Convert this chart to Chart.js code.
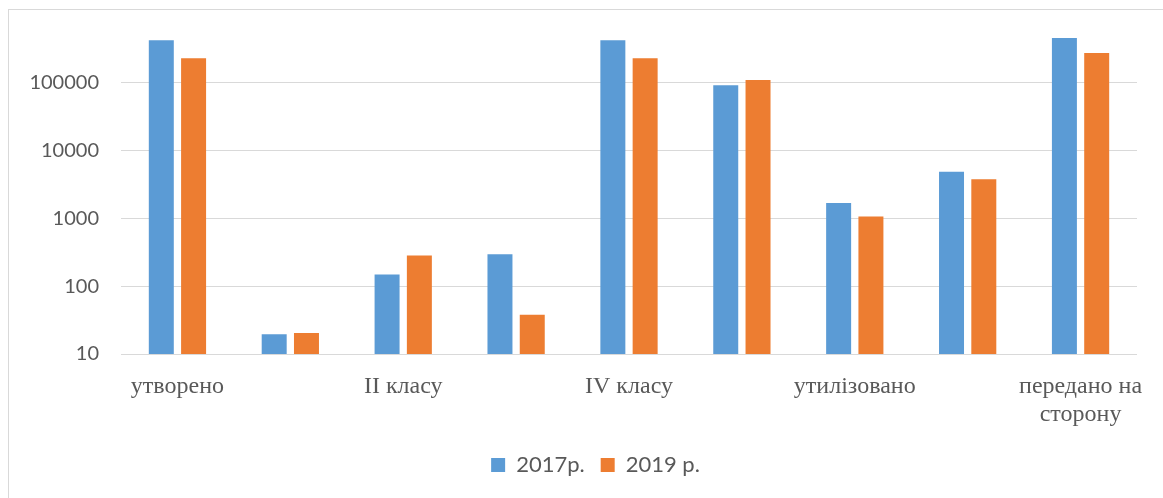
<!DOCTYPE html>
<html>
<head>
<meta charset="utf-8">
<script src="https://cdn.jsdelivr.net/npm/chart.js@4/dist/chart.umd.min.js"></script>
<style>
  html, body { margin: 0; padding: 0; background: #fff; }
  #frame { position: absolute; left: 8px; top: 9px; width: 1163px; height: 498px;
           border-left: 1px solid #d9d9d9; border-top: 1px solid #d9d9d9; }
  #wrap { position: absolute; left: 0; top: 0; width: 1163px; height: 498px; }
</style>
</head>
<body>
<div id="frame"></div>
<div id="wrap"><canvas id="c" width="1163" height="498"></canvas></div>
<script>
const categories = ["утворено", "", "II класу", "", "IV класу", "", "утилізовано", "", ["передано на", "сторону"]];
const series2017 = [421000, 19.5, 149, 295, 421000, 91000, 1680, 4860, 454000];
const series2019 = [229000, 20.4, 283, 37.8, 229000, 109500, 1060, 3750, 273000];
const yTicks = [10, 100, 1000, 10000, 100000, 1000000];
const seriesNames = ["2017р.", "2019 р."];

const sansFont = "Lato, 'Open Sans', sans-serif";
const serifFont = "'Liberation Serif', 'DejaVu Serif', serif";

const legendShift = {
  id: 'legendShift',
  beforeDraw(chart) {
    const lg = chart.legend;
    if (lg && !lg._shifted) { lg.left += 27; lg.right += 27; lg._shifted = true; }
  }
};

new Chart(document.getElementById('c'), {
  type: 'bar',
  data: {
    labels: categories,
    datasets: [
      { label: seriesNames[0], data: series2017, backgroundColor: '#5b9bd5', categoryPercentage: 0.572, barPercentage: 0.774 },
      { label: seriesNames[1], data: series2019, backgroundColor: '#ed7d31', categoryPercentage: 0.572, barPercentage: 0.774 }
    ]
  },
  plugins: [legendShift],
  options: {
    responsive: false,
    animation: false,
    layout: { padding: { left: 0, right: 26, top: 14.7, bottom: 12 } },
    plugins: {
      tooltip: { enabled: false },
      legend: {
        position: 'bottom',
        labels: { boxWidth: 14, boxHeight: 14, padding: 16, color: '#595959',
                  font: { family: sansFont, size: 22 } }
      }
    },
    scales: {
      x: {
        grid: { display: false },
        border: { display: false },
        ticks: { autoSkip: false, maxRotation: 0, padding: 10, color: '#595959',
                 font: { family: serifFont, size: 24 } },
        afterFit: (s) => { s.height = 84; }
      },
      y: {
        type: 'logarithmic',
        min: 10, max: 1000000,
        border: { display: false },
        grid: { drawTicks: false, lineWidth: 1,
                color: (ctx) => (ctx.tick && ctx.tick.value === 1000000) ? 'rgba(0,0,0,0)' : '#d9d9d9' },
        afterBuildTicks: (s) => { s.ticks = yTicks.map(v => ({ value: v })); },
        ticks: { padding: 22, color: '#595959', font: { family: sansFont, size: 20 },
                 callback: (v) => v === 1000000 ? '' : String(v) },
        afterFit: (s) => { s.width = 121; s.paddingTop = 0; s.paddingBottom = 0; }
      }
    }
  }
});
</script>
</body>
</html>
